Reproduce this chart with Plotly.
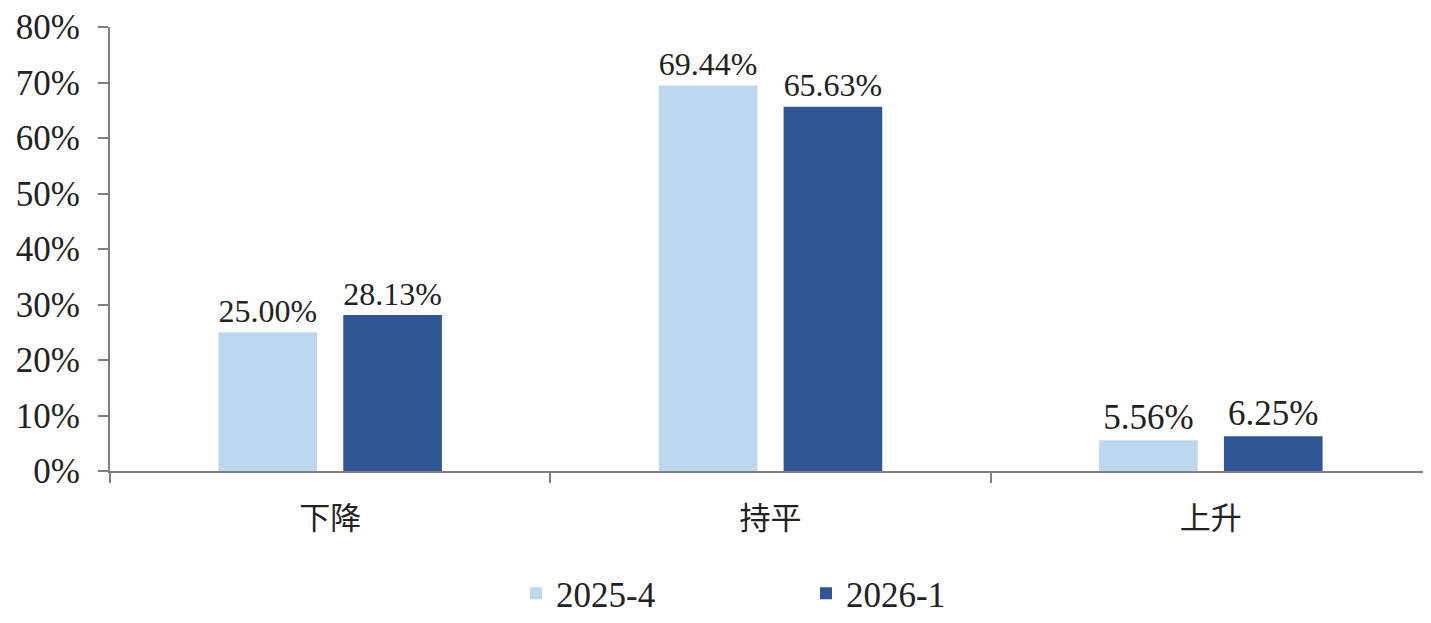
import plotly.graph_objects as go

categories = ["下降", "持平", "上升"]
series_names = ["2025-4", "2026-1"]
values_2025_4 = [25.00, 69.44, 5.56]
values_2026_1 = [28.13, 65.63, 6.25]
colors = ["#BDD7EE", "#2F5597"]

FONT = "Liberation Serif"
CJK = "Noto Sans CJK SC"

fig = go.Figure()
for name, vals, col in zip(series_names, [values_2025_4, values_2026_1], colors):
    fig.add_trace(go.Bar(
        x=categories, y=vals, name=name, marker=dict(color=col, line=dict(width=0)),
        texttemplate="%{y:.2f}%", textposition="outside", cliponaxis=False,
        textfont=dict(family=FONT, size=35, color="#222222"),
    ))

fig.update_layout(
    width=1423, height=615,
    margin=dict(l=102, r=0, t=19, b=152),
    plot_bgcolor="white", paper_bgcolor="white",
    barmode="group", bargap=0.433, bargroupgap=0.21,
    font=dict(family=FONT, size=35, color="#222222"),
    showlegend=True,
    legend=dict(orientation="h", xref="container", x=0.357, xanchor="left",
                yref="container", y=0.0, yanchor="bottom",
                entrywidth=245, entrywidthmode="pixels",
                font=dict(family=FONT, size=35, color="#222222")),
)
fig.update_xaxes(
    automargin=False,
    showline=True, linecolor="#808080", linewidth=2,
    ticks="outside", tickson="boundaries", ticklen=10, tickwidth=2, tickcolor="#808080",
    showgrid=False, ticklabelstandoff=19,
    tickfont=dict(family=CJK, size=31, color="#222222"),
)
fig.update_yaxes(
    automargin=False,
    range=[0, 80], dtick=10, ticksuffix="%",
    showline=True, linecolor="#808080", linewidth=2,
    ticks="outside", ticklen=10, tickwidth=2, tickcolor="#808080",
    showgrid=False, zeroline=False, ticklabelstandoff=11,
    tickfont=dict(family=FONT, size=35, color="#222222"),
)

fig.write_html("out.html")
